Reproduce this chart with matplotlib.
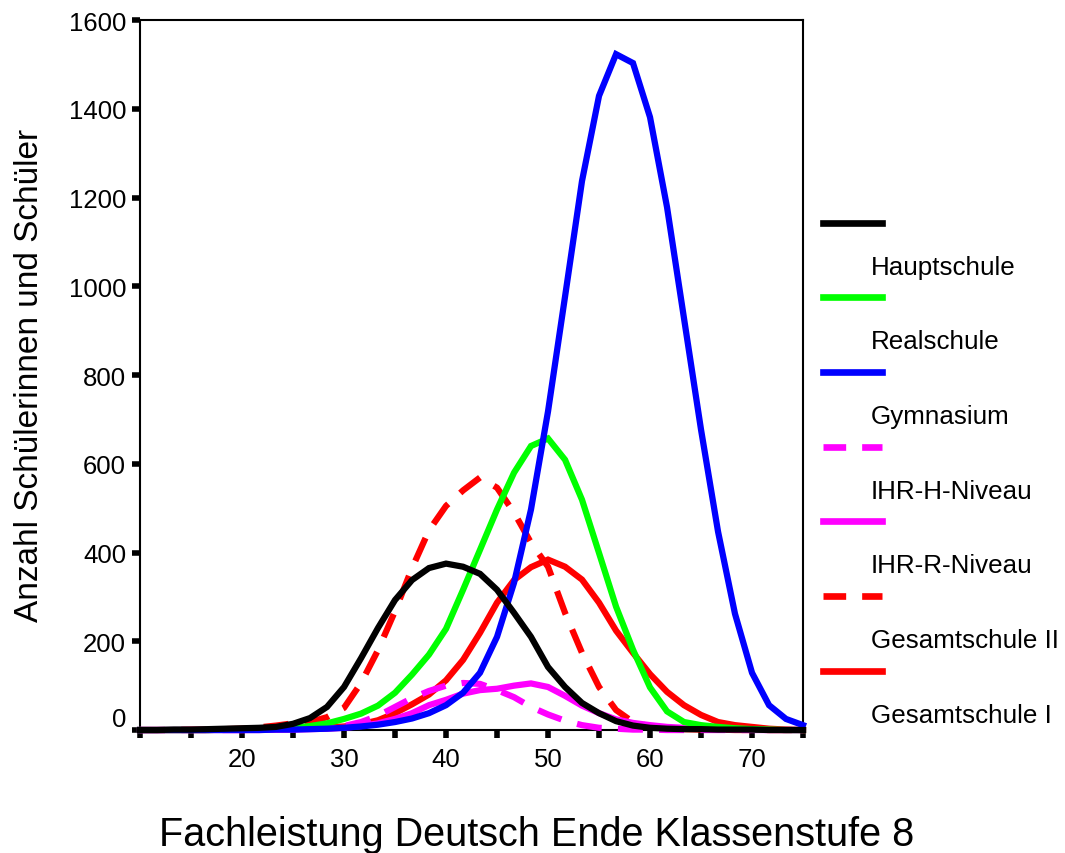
import matplotlib.pyplot as plt
from matplotlib.lines import Line2D
from matplotlib.transforms import ScaledTranslation

plt.rcParams['font.family'] = ['Liberation Sans', 'DejaVu Sans']

# score grid (x axis)
score = [10, 11.67, 13.33, 15, 16.67, 18.33, 20, 21.67, 23.33, 25,
         26.67, 28.33, 30, 31.67, 33.33, 35, 36.67, 38.33, 40, 41.67,
         43.33, 45, 46.67, 48.33, 50, 51.67, 53.33, 55, 56.67, 58.33,
         60, 61.67, 63.33, 65, 66.67, 68.33, 70, 71.67, 73.33, 75]

hauptschule = [0, 0, 1, 1, 2, 3, 4, 5, 7, 14,
               27, 52, 97, 162, 230, 293, 338, 365, 375, 368,
               352, 316, 264, 210, 142, 97, 61, 38, 20, 10,
               5, 3, 2, 2, 1, 1, 1, 0, 0, 0]
realschule = [0, 0, 0, 0, 0, 1, 1, 2, 3, 5,
              9, 15, 25, 37, 55, 84, 125, 170, 228, 316,
              406, 497, 580, 640, 657, 609, 519, 399, 278, 181,
              96, 42, 18, 11, 7, 4, 2, 1, 0, 0]
gymnasium = [0, 0, 0, 0, 0, 0, 0, 0, 1, 1,
             2, 3, 5, 8, 12, 18, 26, 38, 56, 84,
             129, 210, 332, 497, 718, 977, 1237, 1429, 1523, 1503,
             1381, 1178, 928, 677, 447, 262, 129, 56, 25, 11]
ihr_h = [0, 0, 0, 0, 0, 0, 0, 1, 1, 2,
         3, 5, 9, 18, 32, 52, 72, 88, 100, 106,
         104, 90, 74, 52, 35, 21, 11, 5, 3, 1,
         1, 0, 0, 0, 0, 0, 0, 0, 0, 0]
ihr_r = [0, 0, 0, 0, 0, 0, 0, 0, 1, 1,
         2, 3, 5, 9, 15, 25, 38, 56, 68, 82,
         90, 93, 100, 105, 97, 77, 55, 38, 24, 16,
         11, 7, 5, 3, 2, 1, 1, 0, 0, 0]
gesamt_2 = [0, 0, 0, 1, 1, 2, 3, 6, 10, 15,
            18, 29, 50, 106, 180, 268, 365, 450, 505, 540,
            569, 546, 490, 422, 368, 264, 174, 97, 45, 18,
            8, 4, 2, 1, 1, 0, 0, 0, 0, 0]
gesamt_1 = [0, 0, 0, 0, 0, 1, 1, 2, 3, 4,
            5, 6, 8, 13, 22, 38, 58, 80, 112, 158,
            219, 287, 338, 367, 384, 368, 339, 287, 224, 174,
            126, 86, 56, 34, 18, 11, 7, 3, 1, 0]

labels = ['Hauptschule', 'Realschule', 'Gymnasium', 'IHR-H-Niveau',
          'IHR-R-Niveau', 'Gesamtschule II', 'Gesamtschule I']
colors = ['#000000', '#00ff00', '#0000ff', '#ff00ff', '#ff00ff', '#ff0000', '#ff0000']
dashed = [False, False, False, True, False, True, False]
series = [hauptschule, realschule, gymnasium, ihr_h, ihr_r, gesamt_2, gesamt_1]

fig = plt.figure(figsize=(10.65, 8.54), dpi=100)
ax = fig.add_axes([0.1315, 0.144, 0.6225, 0.8314])

lw = 4.5
dash = (4.0, 2.6)
draw_order = [6, 5, 3, 4, 1, 2, 0]
for i in draw_order:
    ls = (0, dash) if dashed[i] else '-'
    ax.plot(score, series[i], color=colors[i], lw=lw, linestyle=ls,
            solid_joinstyle='miter', clip_on=False, zorder=3)

ax.set_xlim(10, 75)
ax.set_ylim(0, 1600)
ax.set_xticks(range(10, 76, 5))
ax.set_xticklabels(['' if t % 10 or t == 10 else str(t) for t in range(10, 76, 5)])
ax.set_yticks(range(0, 1601, 200))
ax.tick_params(axis='both', direction='out', length=6, width=4,
               labelsize=18.5, color='black')
ax.tick_params(axis='x', pad=6)
ax.tick_params(axis='y', pad=4)
for sp in ax.spines.values():
    sp.set_linewidth(1.5)

# the 0 label sits a little above the x axis
zero_lab = ax.get_yticklabels()[0]
zero_lab.set_transform(zero_lab.get_transform() + ScaledTranslation(0, 14 / 100, fig.dpi_scale_trans))

ax.set_xlabel('Fachleistung Deutsch Ende Klassenstufe 8', fontsize=28.5, va='center')
ax.xaxis.set_label_coords(0.598, -0.1465)
ax.set_ylabel('Anzahl Schülerinnen und Schüler', fontsize=24, va='center')
ax.yaxis.set_label_coords(-0.166, 0.501)

# legend: line sample with its label drawn below it
W, H = 1065, 854
line_y = [224, 298, 373, 448, 522, 597, 672]
for i in range(7):
    y = 1 - line_y[i] / H
    ls = (0, (3.4, 2.4)) if dashed[i] else '-'
    fig.add_artist(Line2D([823 / W, 882 / W], [y, y], color=colors[i], lw=4.8,
                          linestyle=ls, transform=fig.transFigure))
    fig.text(871 / W, 1 - (line_y[i] + 44) / H, labels[i], fontsize=18.7,
             va='center', ha='left')

fig.savefig('out.png', dpi=100)
